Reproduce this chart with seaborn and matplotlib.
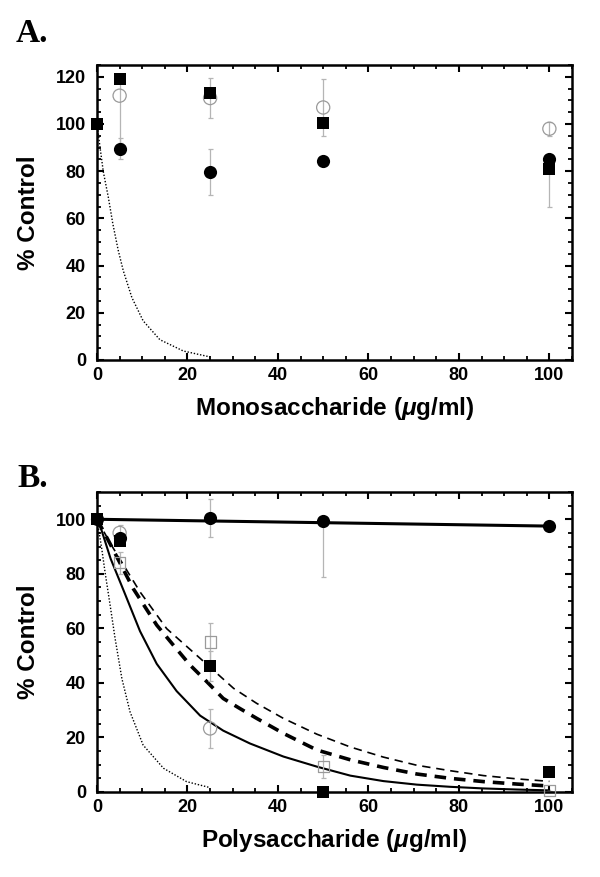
import matplotlib
matplotlib.use("Agg")
import matplotlib.pyplot as plt
from matplotlib.ticker import MultipleLocator
import seaborn as sns
import pandas as pd

# ---- Panel A: monosaccharide ----
a_sq_x = [0, 5, 25, 50, 100]
a_sq_y = [100, 119, 113, 100.5, 81]
a_sq_err = [0, 0, 0, 0, 16]

a_oc_x = [5, 25, 50, 100]
a_oc_y = [112, 111, 107, 98]
a_oc_lo = [20, 8.5, 12, 3]
a_oc_hi = [7, 8.5, 12, 3]

a_fc_x = [5, 25, 50, 100]
a_fc_y = [89.5, 79.5, 84.5, 85]
a_fc_err = [4.5, 9.7, 0, 0]

a_dot_x = [0, 0.66, 1.4, 2.5, 3.5, 4.7, 5.8, 7.7, 10.2, 13.9, 19.1, 25]
a_dot_y = [100, 90.3, 79.7, 69, 57.7, 46.4, 37.9, 26.5, 16.6, 8.6, 3.8, 1.3]

# ---- Panel B: polysaccharide ----
b_fc_x = [0, 5, 25, 50, 100]
b_fc_y = [100, 93, 100.6, 99.5, 97.5]
b_fc_lo = [0, 0, 7, 20.5, 0]
b_fc_hi = [0, 0, 7, 0, 0]

b_sq_x = [0, 5, 25, 50, 100]
b_sq_y = [100, 92, 46.2, 0, 7.2]
b_sq_err = [0, 0, 5.4, 0, 0]

b_os_x = [5, 25, 50, 100]
b_os_y = [84, 55, 9.3, 0.5]
b_os_err = [4, 7, 4.2, 0]

b_oc_x = [5, 25]
b_oc_y = [95, 23.3]
b_oc_err = [3, 7]

b_flat_x = [0, 100]
b_flat_y = [100, 97.5]

b_dot_x = [0, 1.04, 1.77, 2.9, 4, 5.5, 7.3, 10.2, 14.7, 19.8, 25]
b_dot_y = [100, 89.3, 80.7, 68.5, 56.3, 41.6, 29.4, 17.2, 8.7, 3.8, 1.6]

b_solid_x = [0, 1, 3, 6, 9.5, 13.2, 17.6, 22.8, 27.9, 33.8, 41.2, 48.6, 56, 63.3, 70.7, 78.1, 85.5, 92.9, 100]
b_solid_y = [100, 96, 85.6, 73.4, 59, 47, 37, 28, 22.5, 17.8, 13, 9.3, 6, 4, 2.7, 1.9, 1.3, 0.9, 0.6]

b_thick_x = [0, 2.9, 8, 13.2, 16.9, 20.6, 24.3, 27.9, 31.6, 35.3, 41.2, 48.6, 56, 63.3, 70.7, 78.1, 85.5, 92.9, 100]
b_thick_y = [100, 91, 74.6, 61.2, 53.8, 46.5, 40.4, 34.3, 30.6, 27, 21.5, 15.4, 11.8, 9, 6.6, 5, 3.8, 2.9, 2.2]

b_thin_x = [0, 3, 9.5, 15.4, 22.8, 30.2, 35.3, 41.2, 48.6, 56, 63.3, 70.7, 78.1, 85.5, 92.9, 100]
b_thin_y = [100, 91, 73.4, 59.9, 49, 38, 32.5, 27, 21.2, 16.5, 12.8, 9.8, 7.8, 6, 4.8, 3.9]

GREY = "#9a9a9a"
ERR = "#b5b5b5"

sns.set_theme(style="ticks")
plt.rcParams['font.family'] = ['Liberation Sans', 'DejaVu Sans']
plt.rcParams['font.weight'] = 'bold'
plt.rcParams['text.color'] = 'black'
plt.rcParams['axes.labelcolor'] = 'black'
plt.rcParams['xtick.color'] = 'black'
plt.rcParams['ytick.color'] = 'black'
plt.rcParams['mathtext.fontset'] = 'custom'
plt.rcParams['mathtext.rm'] = 'Liberation Sans:bold'
plt.rcParams['mathtext.it'] = 'Liberation Sans:bold:italic'
plt.rcParams['mathtext.bf'] = 'Liberation Sans:bold'

fig = plt.figure(figsize=(6, 8.77), dpi=100)
axA = fig.add_axes([97/600, 1-360/877, 475/600, 295/877])
axB = fig.add_axes([97/600, 1-792/877, 475/600, 300/877])


def errbars(ax, x, y, lo, hi):
    ax.errorbar(x, y, yerr=[lo, hi], fmt='none', ecolor=ERR, elinewidth=0.9,
                capsize=1.8, capthick=0.9, zorder=2)


def points(ax, x, y, marker, filled):
    df = pd.DataFrame({"x": x, "y": y})
    size = 64 if marker == 's' else 90
    if filled:
        sns.scatterplot(data=df, x="x", y="y", ax=ax, marker=marker, s=size,
                        color="black", edgecolor="black", linewidth=0, zorder=4)
    else:
        sns.scatterplot(data=df, x="x", y="y", ax=ax, marker=marker, s=size,
                        facecolor="none", edgecolor=GREY, linewidth=0.9, zorder=3)


def curve(ax, x, y, **kw):
    sns.lineplot(x=x, y=y, ax=ax, color="black", sort=False, zorder=2, **kw)


def style(ax, ymax, xlabel):
    ax.set_xlim(0, 105)
    ax.set_ylim(0, ymax)
    ax.xaxis.set_major_locator(MultipleLocator(20))
    ax.xaxis.set_minor_locator(MultipleLocator(5))
    ax.yaxis.set_major_locator(MultipleLocator(20))
    ax.yaxis.set_minor_locator(MultipleLocator(5))
    ax.tick_params(which='both', direction='in', top=True, right=True,
                   colors='black', labelcolor='black', labelsize=13)
    ax.tick_params(which='major', length=5, width=1.5)
    ax.tick_params(which='minor', length=3, width=1.3)
    ax.tick_params(axis='x', pad=5)
    ax.tick_params(axis='y', pad=8)
    for s in ax.spines.values():
        s.set_linewidth(1.8)
        s.set_color('black')
        s.set_visible(True)
    ax.set_xlabel(xlabel, fontsize=17.5, fontweight='bold', labelpad=8, color='black')
    ax.set_ylabel("% Control", fontsize=17.5, fontweight='bold', color='black')
    ax.yaxis.set_label_coords(-0.12, 0.5)
    for lab in ax.get_xticklabels() + ax.get_yticklabels():
        lab.set_fontweight('bold')


# Panel A
curve(axA, a_dot_x, a_dot_y, linewidth=1.0, linestyle=(0, (1, 1.3)))
errbars(axA, a_oc_x, a_oc_y, a_oc_lo, a_oc_hi)
errbars(axA, a_fc_x, a_fc_y, a_fc_err, a_fc_err)
errbars(axA, a_sq_x, a_sq_y, a_sq_err, [0]*5)
points(axA, a_oc_x, a_oc_y, 'o', False)
points(axA, a_fc_x, a_fc_y, 'o', True)
points(axA, a_sq_x, a_sq_y, 's', True)
style(axA, 125, r"Monosaccharide ($\mu$g/ml)")

# Panel B
curve(axB, b_dot_x, b_dot_y, linewidth=1.0, linestyle=(0, (1, 1.3)))
curve(axB, b_solid_x, b_solid_y, linewidth=1.5)
curve(axB, b_thick_x, b_thick_y, linewidth=2.6, linestyle=(0, (3.2, 2.2)))
curve(axB, b_thin_x, b_thin_y, linewidth=1.2, linestyle=(0, (5, 3.5)))
curve(axB, b_flat_x, b_flat_y, linewidth=2.2)
errbars(axB, b_fc_x, b_fc_y, b_fc_lo, b_fc_hi)
errbars(axB, b_sq_x, b_sq_y, b_sq_err, b_sq_err)
errbars(axB, b_os_x, b_os_y, b_os_err, b_os_err)
errbars(axB, b_oc_x, b_oc_y, b_oc_err, b_oc_err)
points(axB, b_os_x, b_os_y, 's', False)
points(axB, b_oc_x, b_oc_y, 'o', False)
points(axB, b_fc_x, b_fc_y, 'o', True)
points(axB, b_sq_x, b_sq_y, 's', True)
style(axB, 110, r"Polysaccharide ($\mu$g/ml)")

for ax in (axA, axB):
    for c in ax.collections:
        c.set_clip_on(False)

fig.text(16/600, 1-42/877, "A.", fontsize=24, fontweight='bold',
         family=['Liberation Serif'], va='baseline', ha='left')
fig.text(17/600, 1-487/877, "B.", fontsize=24, fontweight='bold',
         family=['Liberation Serif'], va='baseline', ha='left')

fig.savefig("out.png", dpi=100)
